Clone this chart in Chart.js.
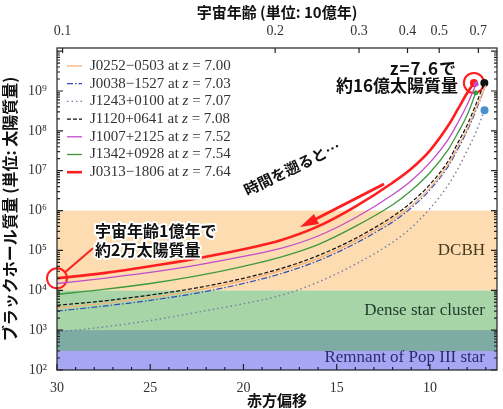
<!DOCTYPE html>
<html>
<head>
<meta charset="utf-8">
<script src="https://cdn.jsdelivr.net/npm/chart.js@4.4.1/dist/chart.umd.min.js"></script>
<style>
  html, body { margin: 0; padding: 0; background: #fff; }
</style>
</head>
<body>
<canvas id="c" width="503" height="409"></canvas>
<script>
// redshift samples and black hole masses (solar masses)
const zJ0252 = [30, 27.5, 25, 22.5, 20, 18, 16, 14, 12, 11, 10, 9, 8.5, 8, 7.5, 7.00];
const mJ0252 = [3.6e3, 4.7e3, 6.6e3, 1.0e4, 1.74e4, 3.1e4, 6.3e4, 1.74e5, 6.0e5, 1.32e6, 3.7e6, 1.48e7, 4.0e7, 1.12e8, 4.0e8, 1.4e9];
const zJ0038 = [30, 27.5, 25, 22.5, 20, 18, 16, 14, 12, 11, 10, 9, 8.5, 8, 7.5, 7.03];
const mJ0038 = [3.0e3, 4.0e3, 5.6e3, 8.5e3, 1.48e4, 2.6e4, 5.5e4, 1.5e5, 5.2e5, 1.17e6, 3.3e6, 1.32e7, 3.5e7, 1.0e8, 3.5e8, 1.33e9];
const zJ1243 = [30, 27.5, 25, 22.5, 20, 18, 16, 14, 12, 11, 10, 9, 8.5, 8, 7.5, 7.07];
const mJ1243 = [8.9e2, 1.2e3, 1.74e3, 2.8e3, 4.6e3, 7.4e3, 1.6e4, 4.5e4, 1.6e5, 3.7e5, 1.12e6, 4.5e6, 1.12e7, 3.2e7, 1.0e8, 3.3e8];
const zJ1120 = [30, 27.5, 25, 22.5, 20, 18, 16, 14, 12, 11, 10, 9, 8.5, 8, 7.5, 7.08];
const mJ1120 = [4.2e3, 5.4e3, 7.6e3, 1.15e4, 2.0e4, 3.5e4, 7.4e4, 2.0e5, 7.1e5, 1.6e6, 4.5e6, 1.8e7, 5.0e7, 1.4e8, 5.0e8, 1.6e9];
const zJ1007 = [30, 27.5, 25, 22.5, 20, 18, 16, 14, 12, 11, 10, 9, 8.5, 8, 7.52];
const mJ1007 = [1.48e4, 2.0e4, 2.8e4, 4.3e4, 7.1e4, 1.12e5, 2.3e5, 6.6e5, 2.5e6, 5.6e6, 1.6e7, 6.3e7, 1.6e8, 4.5e8, 1.5e9];
const zJ1342 = [30, 27.5, 25, 22.5, 20, 18, 16, 14, 12, 11, 10, 9, 8.5, 8, 7.54];
const mJ1342 = [7.9e3, 1.05e4, 1.48e4, 2.3e4, 4.0e4, 6.8e4, 1.4e5, 4.0e5, 1.4e6, 3.2e6, 8.9e6, 3.5e7, 8.9e7, 2.5e8, 9.0e8];
const zJ0313 = [30, 27.5, 25, 22.5, 20, 18, 16, 14, 12, 11, 10, 9, 8.5, 8, 7.64];
const mJ0313 = [2.0e4, 2.7e4, 4.0e4, 6.3e4, 1.07e5, 1.8e5, 4.0e5, 1.26e6, 5.0e6, 1.12e7, 3.2e7, 1.4e8, 3.5e8, 8.9e8, 1.6e9];

const quasarNames = ['J0252\u22120503', 'J0038\u22121527', 'J1243+0100', 'J1120+0641', 'J1007+2125', 'J1342+0928', 'J0313\u22121806'];
const quasarZ = ['7.00', '7.03', '7.07', '7.08', '7.52', '7.54', '7.64'];

// seed mass ranges
const bandNames = ['Remnant of Pop III star', 'Dense star cluster', 'DCBH'];
const bandLow = [1e2, 3e2, 1e4];
const bandHigh = [1e3, 1e4, 1e6];

// axis ticks
const zTicks = [30, 25, 20, 15, 10];
const ageLabels = ['0.1', '0.2', '0.3', '0.4', '0.5', '0.7'];
const ageZ = [29.7, 18.3, 13.8, 11.2, 9.5, 7.4];
const massTicks = [1e2, 1e3, 1e4, 1e5, 1e6, 1e7, 1e8, 1e9];
const massLabels = ['10\u00b2', '10\u00b3', '10\u2074', '10\u2075', '10\u2076', '10\u2077', '10\u2078', '10\u2079'];

const jp = '"Noto Sans CJK JP", sans-serif';
const serif = '"Liberation Serif", "DejaVu Serif", serif';

function pts(zs, ms) {
    return zs.map((z, i) => ({ x: z, y: ms[i] }));
}

function quasar(i, zs, ms, color, width, dash, endR, endColor) {
    return {
        label: quasarNames[i],
        zLabel: quasarZ[i],
        data: pts(zs, ms),
        borderColor: color,
        borderWidth: width,
        borderDash: dash,
        cubicInterpolationMode: 'monotone',
        pointRadius: ctx => ctx.dataIndex === zs.length - 1 ? endR : 0,
        pointBackgroundColor: endColor || color,
        pointBorderWidth: 0,
        fill: false
    };
}

const datasets = [
    quasar(0, zJ0252, mJ0252, '#f6b27a', 1.3, [], 0),
    quasar(1, zJ0038, mJ0038, '#2f4fb8', 1.2, [6, 2, 1.5, 2], 0),
    quasar(2, zJ1243, mJ1243, '#6f7f9f', 1.4, [1.5, 3], 4, '#4a90d0'),
    quasar(3, zJ1120, mJ1120, '#111111', 1.2, [4, 2], 4),
    quasar(4, zJ1007, mJ1007, '#c04cc8', 1.3, [], 2.5),
    quasar(5, zJ1342, mJ1342, '#3c9a3c', 1.3, [], 2.5),
    quasar(6, zJ0313, mJ0313, '#ff1e1e', 2.6, [], 4),
    {
        label: 'circles',
        marker: true,
        data: [pts(zJ0313, mJ0313)[0], pts(zJ0313, mJ0313)[zJ0313.length - 1]],
        showLine: false,
        pointRadius: 10,
        pointBorderWidth: 2,
        pointBorderColor: '#ff1e1e',
        pointBackgroundColor: 'rgba(0,0,0,0)',
        clip: false
    }
];

function haloText(ctx, text, x, y) {
    ctx.lineJoin = 'round';
    ctx.strokeStyle = '#fff';
    ctx.lineWidth = 4;
    ctx.strokeText(text, x, y);
    ctx.fillStyle = '#111';
    ctx.fillText(text, x, y);
}

// horizontal axes: no extra side padding, so the plot spans the full width
function noSidePad(s, h) {
    s.height = h;
    s.paddingLeft = 0;
    s.paddingRight = 0;
}

const decor = {
    id: 'decor',
    beforeDatasetsDraw(chart) {
        const { ctx, chartArea: a, scales: { y } } = chart;
        const fills = ['#a6a6f5', 'rgba(90,175,90,0.53)', '#fcdcb0'];
        const textColors = ['#2b2b6b', '#1e3a2a', '#4a3a20'];
        const labelY = [358, 311, 251];
        ctx.save();
        bandNames.forEach((n, i) => {
            const top = y.getPixelForValue(bandHigh[i]);
            const bot = y.getPixelForValue(bandLow[i]);
            ctx.fillStyle = fills[i];
            ctx.fillRect(a.left, top, a.right - a.left, bot - top);
        });
        ctx.font = '17px ' + serif;
        ctx.textAlign = 'right';
        ctx.textBaseline = 'middle';
        bandNames.forEach((n, i) => {
            ctx.fillStyle = textColors[i];
            ctx.fillText(n, a.right - 12, labelY[i]);
        });
        ctx.restore();
    },
    afterDraw(chart) {
        const { ctx, chartArea: a, scales: { x, xTop, y } } = chart;
        ctx.save();
        // frame and inward ticks
        ctx.strokeStyle = '#222';
        ctx.lineWidth = 1.2;
        ctx.strokeRect(a.left, a.top, a.right - a.left, a.bottom - a.top);
        ctx.beginPath();
        for (let z = 7; z <= 30; z++) {
            const px = x.getPixelForValue(z);
            const len = z % 5 === 0 ? 6 : 3;
            ctx.moveTo(px, a.bottom); ctx.lineTo(px, a.bottom - len);
        }
        ageZ.forEach(z => {
            const px = xTop.getPixelForValue(z);
            ctx.moveTo(px, a.top); ctx.lineTo(px, a.top + 5);
        });
        for (let e = 2; e <= 10; e++) {
            for (let k = 1; k <= 9; k++) {
                const v = k * Math.pow(10, e);
                if (v > y.max) break;
                const py = y.getPixelForValue(v);
                const len = k === 1 ? 6 : 3;
                ctx.moveTo(a.left, py); ctx.lineTo(a.left + len, py);
                ctx.moveTo(a.right, py); ctx.lineTo(a.right - len, py);
            }
        }
        ctx.stroke();

        // legend
        ctx.textBaseline = 'middle';
        ctx.textAlign = 'left';
        chart.data.datasets.filter(d => !d.marker).forEach((d, i) => {
            const ly = 66 + i * 17.7;
            ctx.beginPath();
            ctx.strokeStyle = d.borderColor;
            ctx.lineWidth = d.borderWidth;
            ctx.setLineDash(d.borderDash);
            ctx.moveTo(67, ly); ctx.lineTo(82, ly);
            ctx.stroke();
            ctx.setLineDash([]);
            ctx.fillStyle = '#333';
            let tx = 90;
            ctx.font = '15px ' + serif;
            const p1 = d.label + ' at ';
            ctx.fillText(p1, tx, ly); tx += ctx.measureText(p1).width;
            ctx.font = 'italic 15px ' + serif;
            ctx.fillText('z', tx, ly); tx += ctx.measureText('z').width;
            ctx.font = '15px ' + serif;
            ctx.fillText(' = ' + d.zLabel, tx, ly);
        });

        // annotations
        const sx = x.getPixelForValue(zJ0313[0]);
        const sy = y.getPixelForValue(mJ0313[0]);
        ctx.strokeStyle = '#ff1e1e';
        ctx.lineWidth = 2;
        ctx.beginPath();
        ctx.moveTo(sx + 8, sy - 6); ctx.lineTo(sx + 36, sy - 30);
        ctx.stroke();

        ctx.font = 'bold 16px ' + jp;
        ctx.textAlign = 'left';
        haloText(ctx, '宇宙年齢1億年で', 95, 231);
        haloText(ctx, '約2万太陽質量', 95, 250);
        ctx.textAlign = 'right';
        ctx.font = 'bold 17px ' + jp;
        ctx.letterSpacing = '1px';
        haloText(ctx, 'z=7.6で', 457, 69);
        ctx.letterSpacing = '0px';
        haloText(ctx, '約16億太陽質量', 458, 86);

        // arrow back in time
        ctx.strokeStyle = '#ff1e1e';
        ctx.fillStyle = '#ff1e1e';
        ctx.lineWidth = 3;
        ctx.beginPath();
        ctx.moveTo(384, 184); ctx.lineTo(312, 221);
        ctx.stroke();
        ctx.beginPath();
        ctx.moveTo(300, 227); ctx.lineTo(314, 214); ctx.lineTo(319, 224);
        ctx.closePath(); ctx.fill();

        ctx.save();
        ctx.translate(292, 168);
        ctx.rotate(-0.45);
        ctx.textAlign = 'center';
        ctx.font = 'bold 15px ' + jp;
        haloText(ctx, '時間を遡ると…', 0, 0);
        ctx.restore();

        ctx.restore();
    }
};

new Chart(document.getElementById('c'), {
    type: 'line',
    data: { datasets: datasets },
    options: {
        responsive: false,
        animation: false,
        devicePixelRatio: 1,
        layout: { autoPadding: false, padding: { left: 0, right: 6, top: 2, bottom: 0 } },
        plugins: { legend: { display: false }, tooltip: { enabled: false } },
        scales: {
            x: {
                type: 'linear', position: 'bottom', min: 6.4, max: 30, reverse: true,
                afterBuildTicks: s => { s.ticks = zTicks.map(v => ({ value: v })); },
                afterFit: s => noSidePad(s, 39),
                grid: { display: false },
                border: { display: false },
                ticks: { autoSkip: false, maxRotation: 0, padding: 2, color: '#333', font: { family: serif, size: 14 }, callback: v => String(v) },
                title: { display: true, text: '赤方偏移', color: '#111', padding: 0, font: { family: jp, size: 15, weight: 'bold' } }
            },
            xTop: {
                type: 'linear', position: 'top', min: 6.4, max: 30, reverse: true,
                afterBuildTicks: s => { s.ticks = ageZ.map(v => ({ value: v })); },
                afterFit: s => noSidePad(s, 46),
                grid: { display: false },
                border: { display: false },
                ticks: { autoSkip: false, maxRotation: 0, padding: 0, color: '#333', font: { family: serif, size: 14 }, callback: (v, i) => ageLabels[i] },
                title: { display: true, text: '宇宙年齢 (単位: 10億年)', color: '#111', padding: { top: 1, bottom: 0 }, font: { family: jp, size: 15, weight: 'bold' } }
            },
            y: {
                type: 'logarithmic', position: 'left', min: 1e2, max: 1.2e10,
                afterBuildTicks: s => { s.ticks = massTicks.map(v => ({ value: v })); },
                afterFit: s => { s.width = 57; },
                grid: { display: false },
                border: { display: false },
                ticks: { autoSkip: false, padding: 2, color: '#333', font: { family: serif, size: 14 }, callback: (v, i) => massLabels[i] },
                title: { display: true, text: 'ブラックホール質量 (単位: 太陽質量)', color: '#111', padding: 0, font: { family: jp, size: 16, weight: 'bold' } }
            }
        }
    },
    plugins: [decor]
});
</script>
</body>
</html>
